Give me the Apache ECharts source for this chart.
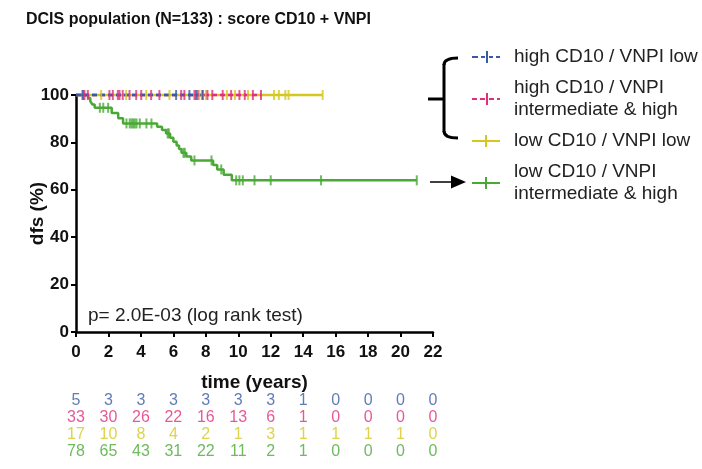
<!DOCTYPE html>
<html>
<head>
<meta charset="utf-8">
<script src="https://cdn.jsdelivr.net/npm/echarts@6/dist/echarts.min.js"></script>
<style>
  html, body { margin: 0; padding: 0; background: #fff; }
  #main { width: 702px; height: 469px; }
</style>
</head>
<body>
<div id="main"></div>
<script>
// survival curves: [years, dfs %]
const blueLine = [[0, 100], [7.8, 100]];
const pinkLine = [[0, 100], [11.4, 100]];
const yellowLine = [[0, 100], [15.2, 100]];
const greenLine = [
  [0, 100], [0.75, 98.7], [0.88, 97.4], [1.0, 96.0], [1.15, 94.6],
  [2.2, 92.4], [2.6, 90.2], [2.9, 88.0], [5.0, 86.6], [5.3, 85.2],
  [5.55, 83.8], [5.8, 82.0], [6.0, 80.3], [6.2, 78.7], [6.35, 77.2],
  [6.5, 75.6], [6.8, 74.0], [7.1, 72.4], [8.45, 70.5], [8.7, 68.6],
  [9.1, 66.4], [9.6, 64.0], [21.0, 64.0]
];

// censored cases (tick marks)
const blueCens = [[0.4, 100], [6.17, 100], [6.99, 100], [7.4, 100], [7.8, 100]];
const pinkCens = [
  [0.45, 100], [0.52, 100], [0.73, 100], [2.06, 100], [2.27, 100], [2.58, 100],
  [2.68, 100], [2.88, 100], [3.3, 100], [3.71, 100], [4.02, 100], [4.63, 100],
  [5.14, 100], [6.48, 100], [6.68, 100], [7.3, 100], [7.5, 100], [7.8, 100],
  [8.1, 100], [8.4, 100], [9.04, 100], [9.56, 100], [10.07, 100], [10.4, 100],
  [10.9, 100], [11.4, 100]
];
const yellowCens = [
  [1.55, 100], [3.09, 100], [4.33, 100], [5.76, 100], [7.6, 100], [8.0, 100],
  [9.3, 100], [9.8, 100], [10.6, 100], [12.2, 100], [12.5, 100], [12.9, 100],
  [13.1, 100], [15.2, 100]
];
const greenCens = [
  [1.47, 94.6], [1.68, 94.6], [1.98, 94.6], [3.11, 88], [3.31, 88], [3.42, 88],
  [3.52, 88], [3.62, 88], [3.73, 88], [3.93, 88], [4.34, 88], [4.65, 88],
  [5.65, 83.8], [5.72, 83.8], [6.62, 75.6], [6.7, 75.6], [7.3, 72.4], [8.35, 72.4],
  [8.95, 68.6], [9.87, 64], [10.07, 64], [10.28, 64], [11.0, 64], [12.0, 64],
  [15.1, 64], [21.0, 64]
];

// numbers at risk
const riskTimes = [0, 2, 4, 6, 8, 10, 12, 14, 16, 18, 20, 22];
const riskBlue = [5, 3, 3, 3, 3, 3, 3, 1, 0, 0, 0, 0];
const riskPink = [33, 30, 26, 22, 16, 13, 6, 1, 0, 0, 0, 0];
const riskYellow = [17, 10, 8, 4, 2, 1, 3, 1, 1, 1, 1, 0];
const riskGreen = [78, 65, 43, 31, 22, 11, 2, 1, 0, 0, 0, 0];

const names = [
  'high CD10 / VNPI low',
  'high CD10 / VNPI\nintermediate & high',
  'low CD10 / VNPI low',
  'low CD10 / VNPI\nintermediate & high'
];
const rows = ['blue', 'pink', 'yellow', 'green'];

const BLUE = '#3a5aa8', PINK = '#e0307a', YELLOW = '#d4c81f', GREEN = '#4aa936';
const FONT = 'Liberation Sans, Arial, sans-serif';

const chart = echarts.init(document.getElementById('main'));

function kmLine(name, data, color, dashed, z) {
  return {
    type: 'line', name: name, data: data, step: 'end', symbol: 'none',
    xAxisIndex: 0, yAxisIndex: 0, clip: false, z: z,
    lineStyle: {color: color, width: 2.5, type: dashed ? [5, 3] : 'solid'},
    itemStyle: {color: color}
  };
}
function censors(name, data, color, z) {
  return {
    type: 'scatter', name: name, data: data, symbol: 'rect', symbolSize: [2, 10],
    xAxisIndex: 0, yAxisIndex: 0, clip: false, z: z,
    itemStyle: {color: color}, emphasis: {disabled: true}
  };
}
function riskRow(row, values, color) {
  return {
    type: 'scatter', data: riskTimes.map((t, i) => [t, row, values[i]]),
    xAxisIndex: 1, yAxisIndex: 1, symbolSize: 2, itemStyle: {color: 'rgba(0,0,0,0)'},
    label: {show: true, position: 'inside', formatter: p => String(p.value[2]),
      color: color, fontSize: 16, fontFamily: FONT},
    silent: true, clip: false
  };
}

const option = {
  animation: false,
  title: {
    text: 'DCIS population (N=133) : score CD10 + VNPI',
    left: 26, top: 12, padding: 0,
    textStyle: {fontSize: 16, fontWeight: 'bold', fontFamily: FONT, color: '#111'}
  },
  legend: {
    orient: 'vertical', left: 472, top: 46, padding: 0, itemGap: 9,
    itemWidth: 46, itemHeight: 12, selectedMode: false,
    textStyle: {fontSize: 19, lineHeight: 22, fontFamily: FONT, color: '#222'},
    data: [
      {name: names[0], icon: 'path://M0,5h6v2h-6z M9,5h4v2h-4z M14,0h2v12h-2z M17,5h4v2h-4z M24,5h4v2h-4z'},
      {name: names[1], icon: 'path://M0,5h5v2h-5z M8,5h5v2h-5z M14,0h2v12h-2z M17,5h5v2h-5z M25,5h3v2h-3z'},
      {name: names[2], icon: 'path://M0,5h28v2h-28z M13,0h2v12h-2z'},
      {name: names[3], icon: 'path://M0,5h28v2h-28z M13,0h2v12h-2z'}
    ]
  },
  grid: [
    {left: 76, top: 95, width: 357, height: 237},
    {left: 76, top: 392, width: 357, height: 68}
  ],
  xAxis: [
    {
      type: 'value', gridIndex: 0, min: 0, max: 22, interval: 2,
      name: 'time (years)', nameLocation: 'middle', nameGap: 41,
      nameTextStyle: {fontSize: 19, fontWeight: 'bold', fontFamily: FONT, color: '#111'},
      axisLine: {show: true, lineStyle: {color: '#000', width: 2.5}},
      axisTick: {show: true, length: 5, lineStyle: {color: '#000', width: 2}},
      axisLabel: {margin: 12, fontSize: 17, fontWeight: 'bold', fontFamily: FONT, color: '#111'},
      splitLine: {show: false}
    },
    {type: 'value', gridIndex: 1, min: 0, max: 22, show: false}
  ],
  yAxis: [
    {
      type: 'value', gridIndex: 0, min: 0, max: 100, interval: 20,
      name: 'dfs (%)', nameLocation: 'middle', nameGap: 29, nameRotate: 90,
      nameMoveOverlap: false,
      nameTextStyle: {fontSize: 19, fontWeight: 'bold', fontFamily: FONT, color: '#111'},
      axisLine: {show: true, lineStyle: {color: '#000', width: 2.5}},
      axisTick: {show: true, length: 5, lineStyle: {color: '#000', width: 2}},
      axisLabel: {margin: 7, fontSize: 17, fontWeight: 'bold', fontFamily: FONT, color: '#111'},
      splitLine: {show: false}
    },
    {type: 'category', gridIndex: 1, data: rows, inverse: true, show: false}
  ],
  graphic: [
    {type: 'text', left: 88, top: 306,
      style: {text: 'p= 2.0E-03 (log rank test)', fontSize: 19, fontFamily: FONT, fill: '#222'}},
    // bracket grouping the three flat curves
    {type: 'polyline', shape: {points: [[444, 64], [444, 132]]},
      style: {stroke: '#000', lineWidth: 3, fill: null}},
    {type: 'bezierCurve', shape: {x1: 444, y1: 65, cpx1: 444, cpy1: 58, x2: 458, y2: 58},
      style: {stroke: '#000', lineWidth: 3, fill: null}},
    {type: 'bezierCurve', shape: {x1: 444, y1: 131, cpx1: 444, cpy1: 138, x2: 458, y2: 138},
      style: {stroke: '#000', lineWidth: 3, fill: null}},
    {type: 'line', shape: {x1: 428, y1: 99, x2: 444, y2: 99},
      style: {stroke: '#000', lineWidth: 3}},
    // arrow towards green legend entry
    {type: 'line', shape: {x1: 430, y1: 182, x2: 452, y2: 182},
      style: {stroke: '#000', lineWidth: 1.5}},
    {type: 'polygon', shape: {points: [[451, 175.5], [466, 182], [451, 188.5]]},
      style: {fill: '#000'}}
  ],
  series: [
    kmLine(names[2], yellowLine, YELLOW, false, 2),
    kmLine(names[1], pinkLine, PINK, true, 3),
    kmLine(names[0], blueLine, BLUE, true, 4),
    kmLine(names[3], greenLine, GREEN, false, 2),
    censors(names[2], yellowCens, YELLOW, 5),
    censors(names[1], pinkCens, PINK, 5),
    censors(names[0], blueCens, BLUE, 5),
    censors(names[3], greenCens, GREEN, 5),
    riskRow('blue', riskBlue, BLUE),
    riskRow('pink', riskPink, PINK),
    riskRow('yellow', riskYellow, YELLOW),
    riskRow('green', riskGreen, GREEN)
  ]
};

chart.setOption(option);
</script>
</body>
</html>
